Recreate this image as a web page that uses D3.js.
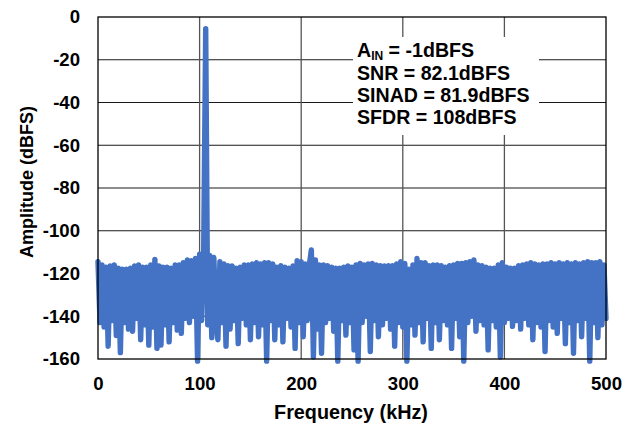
<!DOCTYPE html>
<html>
<head>
<meta charset="utf-8">
<script src="https://cdn.jsdelivr.net/npm/d3@7"></script>
<style>
  body { margin: 0; background: #fff; }
  text { font-family: Arial, "Liberation Sans", sans-serif; font-weight: bold; fill: #000; }
</style>
</head>
<body>
<div id="chart"></div>
<script>
// FFT bins, 2 kHz apart, starting at 0 kHz (in dBFS)
var binSpacingKHz = 2;
var amplitudeDb = [
  -114.5, -143, -116, -145, -117, -154, -116.5, -142, -116, -149,        // 0-18
  -117.5, -157, -118, -143, -118, -146, -117.5, -147, -116.5, -141,      // 20-38
  -116, -151, -117, -144, -117, -153.5, -116, -145, -113.4, -155,        // 40-58
  -116.5, -153.5, -117, -144, -117, -152, -117.5, -143, -116, -146.5,    // 60-78
  -116, -148, -115, -141, -113.7, -143, -114, -140, -113, -161,          // 80-98
  -111, -142, -110.5, -5.5, -144, -111.5, -150, -112.5, -140, -151,      // 100-118
  -114.5, -143, -115.5, -154, -116.4, -146, -116.5, -142, -117.5, -152.8, // 120-138
  -117, -141, -116, -144, -116, -151, -115.5, -143, -115, -149.6,        // 140-158
  -115.5, -144, -115, -161, -115, -142, -115.5, -151, -117, -144,        // 160-178
  -116.4, -152, -117, -141, -117.5, -145, -116.5, -155, -114, -143,      // 180-198
  -114.5, -149.6, -115.5, -142, -116, -109, -159, -113.7, -146, -116,    // 200-218
  -157.3, -116, -143, -116.4, -141, -117, -147, -117.5, -161, -117.5,    // 220-238
  -142, -117, -148.8, -116.5, -143, -117, -155.7, -116, -161, -115.3,    // 240-258
  -143, -116, -140, -115.5, -156.5, -115.3, -142, -116, -149.6, -116.4,  // 260-278
  -144, -116.5, -141, -116.4, -146, -116.4, -154, -115.5, -143, -114.5,  // 280-298
  -145, -115.3, -161, -118, -144, -116, -148.8, -113, -143, -115,        // 300-318
  -152, -115, -141, -116.4, -155, -116, -143, -116, -151, -116.4,        // 320-338
  -142, -117, -144, -116.4, -155, -116, -141, -115.3, -149.6, -115.3,    // 340-358
  -161, -115, -143, -114.5, -140, -113.7, -147, -116, -142, -116.4,      // 360-378
  -144, -117, -155.7, -117.5, -142, -117.5, -145, -116, -159, -115,      // 380-398
  -143, -117, -141, -117.5, -144.7, -117.5, -142, -116.4, -146, -116,    // 400-418
  -141, -115.5, -144, -115, -151, -115.5, -143, -116, -145, -115.5,      // 420-438
  -156.5, -115.5, -142, -115, -145, -115.5, -148, -115, -141, -115.5,    // 440-458
  -152.8, -115, -143, -115.5, -157.3, -115, -142, -115.5, -149.6, -115,  // 460-478
  -141, -114.5, -161, -115, -143, -115, -150, -114.5, -144, -116,        // 480-498
  -141                                                                   // 500
];

var xTicks = [0, 100, 200, 300, 400, 500];
var yTicks = [0, -20, -40, -60, -80, -100, -120, -140, -160];
var notes = ["SNR = 82.1dBFS", "SINAD = 81.9dBFS", "SFDR = 108dBFS"];

var width = 633, height = 425;
var margin = { top: 17, right: 27, bottom: 66, left: 98 };
var plotW = width - margin.left - margin.right;
var plotH = height - margin.top - margin.bottom;

var svg = d3.select("#chart")
  .append("svg")
  .attr("width", width)
  .attr("height", height);

var g = svg.append("g")
  .attr("transform", "translate(" + margin.left + "," + margin.top + ")");

var x = d3.scaleLinear().domain([0, 500]).range([0, plotW]);
var y = d3.scaleLinear().domain([-160, 0]).range([plotH, 0]);

// grid
g.selectAll(".hgrid")
  .data(yTicks.slice(1, -1))
  .enter().append("line")
  .attr("x1", 0).attr("x2", plotW)
  .attr("y1", function(d) { return y(d); })
  .attr("y2", function(d) { return y(d); })
  .style("stroke", "#1a1a1a")
  .style("stroke-width", 1.1);

g.selectAll(".vgrid")
  .data(xTicks.slice(1, -1))
  .enter().append("line")
  .attr("y1", 0).attr("y2", plotH)
  .attr("x1", function(d) { return x(d); })
  .attr("x2", function(d) { return x(d); })
  .style("stroke", "#555")
  .style("stroke-width", 1.3);

// white box behind the annotation
g.append("rect")
  .attr("x", 353 - margin.left)
  .attr("y", 37 - margin.top)
  .attr("width", 186)
  .attr("height", 98)
  .attr("fill", "#fff");

// spectrum
var line = d3.line()
  .x(function(d, i) { return x(i * binSpacingKHz); })
  .y(function(d) { return y(d); });

g.append("path")
  .datum(amplitudeDb)
  .attr("d", line)
  .attr("fill", "none")
  .style("stroke", "#4472C4")
  .style("stroke-width", 5.4)
  .style("stroke-linejoin", "round")
  .style("stroke-linecap", "round");

// plot border
g.append("rect")
  .attr("width", plotW)
  .attr("height", plotH)
  .attr("fill", "none")
  .style("stroke", "#000")
  .style("stroke-width", 1.3);

// axes (labels only), plain hyphen for negatives
var fmt = function(d) { return String(d); };

var xAxis = g.append("g")
  .attr("transform", "translate(0," + plotH + ")")
  .call(d3.axisBottom(x).tickValues(xTicks).tickFormat(fmt).tickSize(0).tickPadding(18));
xAxis.select(".domain").remove();
xAxis.selectAll("text")
  .style("font-size", "18.6px")
  .style("font-family", "Arial, 'Liberation Sans', sans-serif")
  .style("font-weight", "bold")
  .attr("fill", "#000");

var yAxis = g.append("g")
  .call(d3.axisLeft(y).tickValues(yTicks).tickFormat(fmt).tickSize(0).tickPadding(18));
yAxis.select(".domain").remove();
yAxis.selectAll("text")
  .style("font-size", "18.6px")
  .style("font-family", "Arial, 'Liberation Sans', sans-serif")
  .style("font-weight", "bold")
  .attr("fill", "#000");

// axis titles
svg.append("text")
  .attr("x", 351)
  .attr("y", 419)
  .attr("text-anchor", "middle")
  .style("font-size", "19.8px")
  .text("Frequency (kHz)");

svg.append("text")
  .attr("transform", "translate(33," + (margin.top + plotH / 2 - 6) + ") rotate(-90)")
  .attr("text-anchor", "middle")
  .style("font-size", "18px")
  .text("Amplitude (dBFS)");

// annotation
var ann = svg.append("text")
  .attr("x", 357)
  .attr("y", 57)
  .style("font-size", "19.6px");
ann.append("tspan").text("A");
ann.append("tspan").attr("dy", 3).style("font-size", "12px").text("IN");
ann.append("tspan").attr("dy", -3).text(" = -1dBFS");

svg.selectAll(".note")
  .data(notes)
  .enter().append("text")
  .attr("x", 357)
  .attr("y", function(d, i) { return 80 + i * 22.2; })
  .style("font-size", "19.6px")
  .text(function(d) { return d; });
</script>
</body>
</html>
